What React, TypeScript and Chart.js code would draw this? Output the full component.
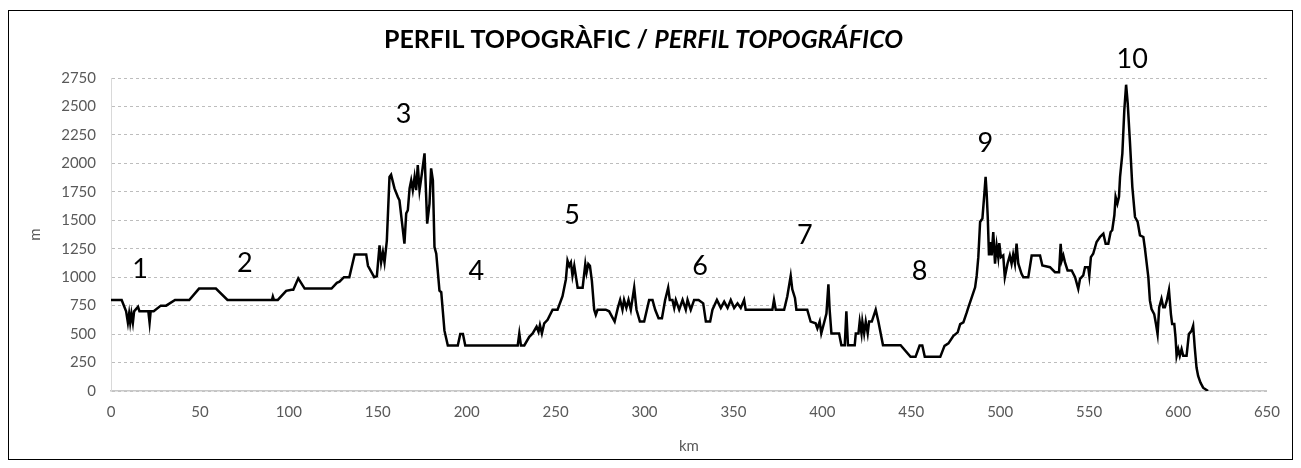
import React, { useEffect, useRef } from "react";
import { Chart, registerables } from "chart.js";

Chart.register(...registerables);

const distanceKm: number[] = [
  0, 6, 8.5, 9.5, 10.2, 10.8, 11.5, 12.3, 13, 15.2, 16, 21, 21.7, 22.3, 24, 28, 31, 36, 44, 49.5,
  59, 65.5, 90.5, 91, 91.6, 93.8, 98.5, 101.5, 102.5, 105.3, 108.9, 124, 127, 128.5, 131, 134, 137, 143.5, 144.5, 148,
  149.5, 151, 151.9, 152.9, 153.8, 155.1, 156.6, 157.5, 159.4, 161.3, 162.2, 165, 166, 166.9, 167.9, 168.8, 169.7, 170.7, 171.6, 172.5,
  173.5, 174.8, 176.3, 177.8, 179.1, 180, 181, 181.9, 182.9, 184.7, 185.7, 187.5, 189.4, 195, 196.4, 197.9, 199.2, 228.7, 229.6, 230.5,
  232.4, 235.2, 237.1, 239.3, 240.4, 241.2, 242.3, 243.6, 245.5, 248.3, 251.1, 253.9, 255.8, 256.7, 257.7, 258.6, 259.5, 260.5, 262.4, 265.2,
  266.7, 267.4, 268.4, 269.3, 270.4, 271.7, 272.6, 273.6, 278.2, 280.1, 283.2, 285, 286.3, 287.6, 288.5, 289.8, 291, 292.3, 294.2, 295.5,
  297.4, 299.8, 302.6, 304.5, 306, 307.9, 309.8, 311.6, 313.3, 314.2, 315.7, 316.7, 317.6, 319.5, 321.4, 323.2, 324.2, 326, 327.9, 330.4,
  333, 334.5, 336.9, 338.2, 340.7, 342.9, 344.8, 346.7, 348.5, 350.4, 352.3, 354.1, 356, 356.9, 371.9, 372.8, 373.8, 378.5, 380.3, 382.2,
  383.1, 384.6, 385.4, 391.5, 393.4, 396.2, 397.2, 398.5, 399.4, 400.9, 402.3, 403.4, 404.1, 405.1, 409.4, 410.7, 412.6, 413.5, 414.4, 418.2,
  418.8, 420.3, 421, 422, 422.5, 423.5, 424.4, 425.5, 426.3, 427.8, 430, 431.5, 434.1, 444, 449.6, 452.4, 454.7, 456.2, 457.6, 466.3,
  468.7, 470.9, 473.7, 476.1, 477.5, 479.3, 481.2, 482.1, 484, 485.9, 486.8, 487.7, 488.7, 490, 491.1, 491.8, 492.4, 493, 493.7, 494.5,
  495.2, 496.1, 497.1, 498, 498.9, 499.5, 500.4, 501.7, 502.6, 504.1, 505.4, 506.4, 507.3, 508.3, 509.2, 510.2, 512, 513, 515.8, 517.7,
  522.4, 523.7, 528, 530.8, 533.1, 534, 534.6, 535.5, 536.4, 537.9, 540.2, 542.1, 543.9, 544.9, 546.7, 547.7, 549.5, 550.1, 551, 552.3,
  554.2, 556.1, 557, 558, 559.3, 560.8, 562.1, 563, 564.2, 564.9, 565.9, 566.8, 567.4, 568.7, 569.8, 570.8, 571.7, 573, 574.3, 575.8,
  577.3, 578.6, 580.5, 581.4, 583.3, 584.2, 585.1, 586.6, 587.6, 588.5, 589.4, 590.7, 591.7, 592.6, 593.7, 594.9, 596, 596.7, 597.9, 598.6,
  599.2, 600.1, 601, 602, 602.9, 604.8, 606.1, 607.6, 608.5, 609.4, 610.4, 611.3, 612.6, 614.1, 616.9,
];

const elevationM: number[] = [
  800, 800, 700, 600, 680, 600, 680, 600, 700, 740, 700, 700, 600, 700, 700, 750, 750, 800, 800, 900,
  900, 800, 800, 830, 800, 800, 880, 890, 890, 990, 900, 900, 950, 960, 1000, 1000, 1200, 1200, 1100, 1000,
  1010, 1280, 1130, 1220, 1130, 1320, 1880, 1900, 1780, 1705, 1676, 1294, 1560, 1588, 1780, 1850, 1765, 1880, 1765, 1985,
  1765, 1910, 2088, 1470, 1647, 1956, 1850, 1265, 1206, 882, 868, 530, 400, 400, 500, 500, 400, 400, 506, 400,
  400, 476, 506, 565, 520, 580, 506, 595, 625, 714, 714, 833, 982, 1146, 1100, 1130, 1012, 1100, 908, 908,
  1116, 1040, 1116, 1100, 967, 714, 670, 714, 714, 700, 610, 730, 800, 714, 800, 730, 800, 714, 908, 714,
  610, 610, 800, 800, 714, 640, 640, 800, 908, 800, 800, 730, 800, 714, 800, 714, 800, 714, 800, 800,
  770, 610, 610, 714, 800, 730, 785, 730, 800, 730, 770, 730, 800, 714, 714, 800, 714, 714, 833, 1012,
  893, 818, 714, 714, 610, 595, 550, 610, 506, 595, 680, 937, 714, 506, 506, 402, 402, 700, 402, 402,
  506, 506, 610, 506, 610, 506, 610, 506, 610, 610, 714, 610, 402, 402, 300, 300, 400, 400, 300, 300,
  397, 418, 485, 515, 588, 603, 690, 735, 823, 911, 1015, 1176, 1485, 1515, 1735, 1882, 1735, 1529, 1191, 1309,
  1191, 1397, 1118, 1279, 1176, 1300, 1176, 1191, 1000, 1118, 1191, 1118, 1200, 1118, 1294, 1118, 1029, 1000, 1000, 1191,
  1191, 1103, 1088, 1044, 1044, 1294, 1147, 1191, 1132, 1059, 1059, 1000, 897, 985, 1015, 1088, 1088, 1015, 1176, 1206,
  1309, 1353, 1368, 1382, 1294, 1294, 1397, 1412, 1544, 1706, 1647, 1706, 1882, 2088, 2470, 2691, 2529, 2176, 1794, 1529,
  1485, 1368, 1353, 1250, 1000, 794, 720, 676, 588, 500, 735, 809, 735, 735, 794, 888, 676, 588, 588, 470,
  309, 368, 309, 368, 309, 309, 500, 529, 573, 382, 206, 132, 74, 29, 0,
];

const pointLabels: string[] = ["1", "2", "3", "4", "5", "6", "7", "8", "9", "10"];
const pointLabelKm: number[] = [16.3, 75.2, 164.5, 205.4, 259.3, 331.2, 390.1, 454.7, 491.7, 574.2];
const pointLabelM: number[] = [1070, 1122, 2428, 1052, 1543, 1096, 1368, 1052, 2174, 2910];

const titleUpright = "PERFIL TOPOGRÀFIC / ";
const titleItalic = "PERFIL TOPOGRÁFICO";
const xAxisTitle = "km";
const yAxisTitle = "m";

const FONT = "Lato, 'Open Sans', sans-serif";

const overlayPlugin = {
  id: "overlay",
  afterDraw(chart: any) {
    const ctx = chart.ctx as CanvasRenderingContext2D;
    const xs = chart.scales.x;
    const ys = chart.scales.y;
    const area = chart.chartArea;
    ctx.save();
    ctx.fillStyle = "#000";
    ctx.textBaseline = "middle";
    ctx.textAlign = "left";
    const f1 = `bold 25px ${FONT}`;
    const f2 = `italic bold 25px ${FONT}`;
    ctx.font = f1;
    const w1 = ctx.measureText(titleUpright).width;
    ctx.font = f2;
    const w2 = ctx.measureText(titleItalic).width;
    const startX = chart.width / 2 - 7 - (w1 + w2) / 2;
    const ty = 29;
    ctx.font = f1;
    ctx.fillText(titleUpright, startX, ty);
    ctx.font = f2;
    ctx.fillText(titleItalic, startX + w1, ty);

    ctx.fillStyle = "#595959";
    ctx.font = `15px ${FONT}`;
    ctx.textAlign = "center";
    ctx.fillText(xAxisTitle, (area.left + area.right) / 2, area.bottom + 55);
    ctx.save();
    ctx.translate(area.left - 76, (area.top + area.bottom) / 2);
    ctx.rotate(-Math.PI / 2);
    ctx.fillText(yAxisTitle, 0, 0);
    ctx.restore();

    ctx.fillStyle = "#000";
    ctx.font = `27px ${FONT}`;
    ctx.textAlign = "center";
    ctx.textBaseline = "middle";
    pointLabels.forEach((t, i) => {
      ctx.fillText(t, xs.getPixelForValue(pointLabelKm[i]), ys.getPixelForValue(pointLabelM[i]));
    });
    ctx.restore();
  },
};

export default function App() {
  const ref = useRef<HTMLCanvasElement | null>(null);
  useEffect(() => {
    if (!ref.current) return;
    Chart.defaults.font.family = FONT;
    const chart = new Chart(ref.current, {
      type: "line",
      data: {
        datasets: [
          {
            data: distanceKm.map((x, i) => ({ x, y: elevationM[i] })),
            borderColor: "#000",
            borderWidth: 2.5,
            pointRadius: 0,
            tension: 0,
            fill: false,
          },
        ],
      },
      options: {
        animation: false,
        responsive: false,
        maintainAspectRatio: false,
        layout: { padding: { top: 67, right: 23, left: 0, bottom: 0 } },
        plugins: { legend: { display: false }, title: { display: false }, tooltip: { enabled: false } },
        scales: {
          x: {
            type: "linear",
            min: 0,
            max: 650,
            afterFit: (s: any) => {
              s.height = 68;
            },
            ticks: {
              stepSize: 50,
              color: "#595959",
              font: { size: 15 },
              padding: 12,
              maxRotation: 0,
              callback: (v: any) => String(v),
            },
            grid: { drawOnChartArea: false, drawTicks: false },
            border: { display: true, color: "#c8c8c8", width: 1.5 },
          },
          y: {
            min: 0,
            max: 2750,
            afterFit: (s: any) => {
              s.width = 102;
            },
            ticks: { stepSize: 250, color: "#595959", font: { size: 15 }, padding: 15, callback: (v: any) => String(v) },
            grid: { color: "#bdbdbd", drawTicks: false, lineWidth: 1 },
            border: { display: true, color: "#d9d9d9", width: 1, dash: [3, 3] },
          },
        },
      },
      plugins: [overlayPlugin],
    });
    return () => chart.destroy();
  }, []);
  return (
    <div
      style={{
        width: 1283,
        height: 448,
        border: "1px solid #000",
        marginTop: 2,
        background: "#fff",
      }}
    >
      <canvas ref={ref} width={1283} height={448} style={{ display: "block", width: 1283, height: 448 }} />
    </div>
  );
}
